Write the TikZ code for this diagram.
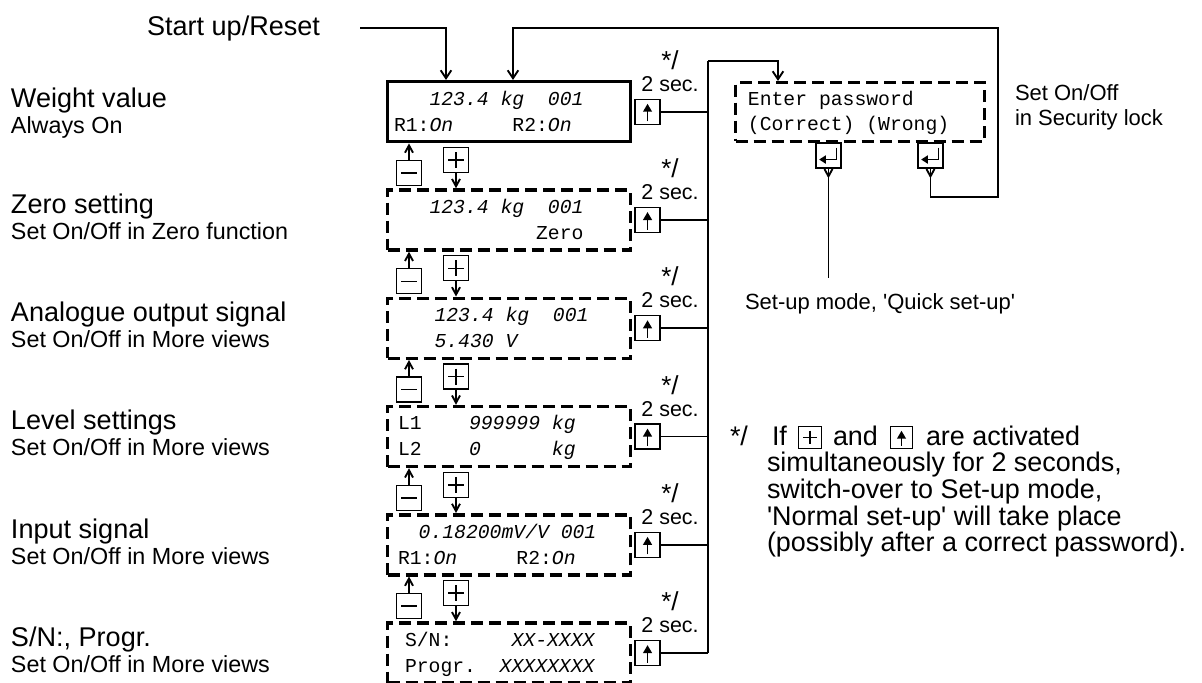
\documentclass[tikz,border=0pt]{standalone}
\usepackage{fontspec}
\setmainfont{Liberation Sans}
\setmonofont{Liberation Mono}
\usetikzlibrary{arrows.meta, positioning, calc}

\begin{document}
\begin{tikzpicture}[x=0.75pt, y=-0.75pt,
  every node/.style={inner sep=0pt, outer sep=0pt},
  display/.style={
    draw, line width=2.6pt, dash pattern=on 9pt off 4.5pt,
    minimum width=182pt, minimum height=45pt
  },
  lcd/.style={anchor=base west, font=\ttfamily\fontsize{14.8pt}{17pt}\selectfont},
  heading/.style={anchor=base west, font=\fontsize{20.3pt}{24pt}\selectfont},
  subheading/.style={anchor=base west, font=\fontsize{17.5pt}{21pt}\selectfont},
  hint/.style={anchor=base, font=\fontsize{16.1pt}{19pt}\selectfont},
  asterisk/.style={anchor=base, font=\fontsize{19.5pt}{24pt}\selectfont},
  remark/.style={anchor=base west, font=\fontsize{16.5pt}{19pt}\selectfont},
  notetext/.style={anchor=base west, font=\fontsize{20.2pt}{20pt}\selectfont},
  btn/.style={draw, line width=0.9pt, minimum size=18.75pt},
  glyph/.style={line width=1.1pt},
  minuskey/.style={btn, path picture={
    \draw[glyph, shorten <=3.4pt, shorten >=3.4pt]
      (path picture bounding box.west) -- (path picture bounding box.east);}},
  pluskey/.style={btn, path picture={
    \draw[glyph, shorten <=3.4pt, shorten >=3.4pt]
      (path picture bounding box.west) -- (path picture bounding box.east);
    \draw[glyph, shorten <=3.4pt, shorten >=3.4pt]
      (path picture bounding box.north) -- (path picture bounding box.south);}},
  upkey/.style={btn, path picture={
    \draw[glyph, line width=1.4pt, -{Triangle[length=6pt, width=6.5pt]},
      shorten <=2.2pt, shorten >=3.4pt]
      (path picture bounding box.south) -- (path picture bounding box.north);}},
  enterkey/.style={btn, path picture={
    \draw[glyph, line width=1.4pt, -{Triangle[length=5pt, width=6pt]}]
      ([shift={(6pt,6pt)}]path picture bounding box.center)
      -- ++(0,-9pt) -- ++(-13pt,0);}},
  wire/.style={line width=1.4pt},
  flow/.style={wire, -{Straight Barb[length=6pt, width=8pt]}, shorten >=1.3pt},
  hop/.style={wire, -{Straight Barb[length=5.5pt, width=6pt]}, shorten >=1.3pt}
]
\useasboundingbox (0,0) rectangle (1202,682);

% display column
\node[display, solid, anchor=north west] (d1) at (387.7,81.7) {};
\node[display, below=36.2pt of d1] (d2) {};
\node[display, below=36.2pt of d2] (d3) {};
\node[display, below=36.2pt of d3] (d4) {};
\node[display, below=36.2pt of d4] (d5) {};
\node[display, below=36.2pt of d5] (d6) {};

\node[lcd] at ($(d1.north west)+(6.3,23.3)$) {~~~\textit{123.4~kg~~001}};
\node[lcd] at ($(d1.north west)+(6.3,49.3)$) {R1:\textit{On}~~~~~R2:\textit{On}};
\node[lcd] at ($(d2.north west)+(6.3,23.3)$) {~~~\textit{123.4~kg~~001}};
\node[lcd] at ($(d2.north west)+(6.3,49.3)$) {~~~~~~~~~~~~Zero};
\node[lcd] at ($(d3.north west)+(11.3,23.3)$) {~~~\textit{123.4~kg~~001}};
\node[lcd] at ($(d3.north west)+(11.3,49.3)$) {~~~\textit{5.430~V}};
\node[lcd] at ($(d4.north west)+(10.3,23.3)$) {L1~~~~\textit{999999~kg}};
\node[lcd] at ($(d4.north west)+(10.3,49.3)$) {L2~~~~\textit{0}~~~~~~\textit{kg}};
\node[lcd] at ($(d5.north west)+(7.3,23.3)$) {~~\textit{0.18200mV/V~001}};
\node[lcd] at ($(d5.north west)+(10.3,49.3)$) {R1:\textit{On}~~~~~R2:\textit{On}};
\node[lcd] at ($(d6.north west)+(17.3,23.3)$) {S/N:~~~~~\textit{XX-XXXX}};
\node[lcd] at ($(d6.north west)+(17.3,49.3)$) {Progr.~~\textit{XXXXXXXX}};

% captions on the left
\coordinate (lft) at (11,0);
\node[heading] at ($(lft |- d1.north)+(0,25.3)$) {Weight value};
\node[subheading] at ($(lft |- d1.north)+(0,51.3)$) {Always On};
\node[heading] at ($(lft |- d2.north)+(0,23.3)$) {Zero setting};
\node[subheading] at ($(lft |- d2.north)+(0,49.3)$) {Set On/Off in Zero function};
\node[heading] at ($(lft |- d3.north)+(0,23.3)$) {Analogue output signal};
\node[subheading] at ($(lft |- d3.north)+(0,49.3)$) {Set On/Off in More views};
\node[heading] at ($(lft |- d4.north)+(0,23.3)$) {Level settings};
\node[subheading] at ($(lft |- d4.north)+(0,49.3)$) {Set On/Off in More views};
\node[heading] at ($(lft |- d5.north)+(0,23.3)$) {Input signal};
\node[subheading] at ($(lft |- d5.north)+(0,49.3)$) {Set On/Off in More views};
\node[heading] at ($(lft |- d6.north)+(0,23.3)$) {S/N:, Progr.};
\node[subheading] at ($(lft |- d6.north)+(0,49.3)$) {Set On/Off in More views};

% up keys with their hints
\node[upkey, right=3.5pt of d1] (u1) {};
\node[upkey, right=3.5pt of d2] (u2) {};
\node[upkey, right=3.5pt of d3] (u3) {};
\node[upkey, right=3.5pt of d4] (u4) {};
\node[upkey, right=3.5pt of d5] (u5) {};
\node[upkey, right=3.5pt of d6] (u6) {};
\node[asterisk] at ($(u1.north)+(22.5,-30)$) {*/};
\node[hint] at ($(u1.north)+(22.5,-8)$) {2 sec.};
\node[asterisk] at ($(u2.north)+(22.5,-30)$) {*/};
\node[hint] at ($(u2.north)+(22.5,-8)$) {2 sec.};
\node[asterisk] at ($(u3.north)+(22.5,-30)$) {*/};
\node[hint] at ($(u3.north)+(22.5,-8)$) {2 sec.};
\node[asterisk] at ($(u4.north)+(22.5,-30)$) {*/};
\node[hint] at ($(u4.north)+(22.5,-8)$) {2 sec.};
\node[asterisk] at ($(u5.north)+(22.5,-30)$) {*/};
\node[hint] at ($(u5.north)+(22.5,-8)$) {2 sec.};
\node[asterisk] at ($(u6.north)+(22.5,-30)$) {*/};
\node[hint] at ($(u6.north)+(22.5,-8)$) {2 sec.};

% minus / plus keys between displays
\node[minuskey] (m1) at ($(d1.south west)+(21.3,31.3)$) {};
\node[pluskey] (p1) at ($(d1.south west)+(68.3,18.3)$) {};
\node[minuskey] (m2) at ($(d2.south west)+(21.3,31.3)$) {};
\node[pluskey] (p2) at ($(d2.south west)+(68.3,18.3)$) {};
\node[minuskey] (m3) at ($(d3.south west)+(21.3,31.3)$) {};
\node[pluskey] (p3) at ($(d3.south west)+(68.3,18.3)$) {};
\node[minuskey] (m4) at ($(d4.south west)+(21.3,31.3)$) {};
\node[pluskey] (p4) at ($(d4.south west)+(68.3,18.3)$) {};
\node[minuskey] (m5) at ($(d5.south west)+(21.3,31.3)$) {};
\node[pluskey] (p5) at ($(d5.south west)+(68.3,18.3)$) {};

\draw[hop] (m1) -- (m1 |- d1.south);
\draw[hop] (p1) -- (p1 |- d2.north);
\draw[hop] (m2) -- (m2 |- d2.south);
\draw[hop] (p2) -- (p2 |- d3.north);
\draw[hop] (m3) -- (m3 |- d3.south);
\draw[hop] (p3) -- (p3 |- d4.north);
\draw[hop] (m4) -- (m4 |- d4.south);
\draw[hop] (p4) -- (p4 |- d5.north);
\draw[hop] (m5) -- (m5 |- d5.south);
\draw[hop] (p5) -- (p5 |- d6.north);

% bus to the password display
\coordinate (bustop) at (708,61);
\draw[wire] (bustop) -- (bustop |- u6.east);
\draw[wire] (u1.east) -- (u1.east -| bustop);
\draw[wire] (u2.east) -- (u2.east -| bustop);
\draw[wire] (u3.east) -- (u3.east -| bustop);
\draw[wire] (u4.east) -- (u4.east -| bustop);
\draw[wire] (u5.east) -- (u5.east -| bustop);
\draw[wire] (u6.east) -- (u6.east -| bustop);

\node[display, minimum width=186.5pt, minimum height=44pt] (pw) at (860,112) {};
\node[lcd] at ($(pw.north west)+(12.3,23.3)$) {Enter~password};
\node[lcd] at ($(pw.north west)+(12.3,48.3)$) {(Correct)~(Wrong)};
\draw[flow] (bustop) -| ($(pw.north west)+(42.3,0)$);

\node[enterkey, anchor=north] (e1) at ($(pw.south west)+(92.8,1.7)$) {};
\node[enterkey, anchor=north] (e2) at ($(pw.south west)+(194.8,1.7)$) {};

\node[remark] (setup) at (745,309) {Set-up mode, \textquotesingle Quick set-up\textquotesingle};
\draw[hop] (e1.south) -- ++(0,12);
\draw[wire] (e1.south) -- ($(e1.south |- setup.north)+(0,-15)$);

\node[remark] (lockA) at (1015,100) {Set On/Off};
\node[remark] at ($(lockA.base west)+(0,25)$) {in Security lock};

% wrong password loops back
\coordinate (loopbot) at (998,197);
\coordinate (looptop) at (998,28);
\draw[hop] (e2.south) -- ++(0,12);
\draw[flow] (e2.south) |- (loopbot) -- (looptop) -| ($(d1.north west)+(125.3,0)$);

% start up
\node[heading] (start) at (147,35) {Start up/Reset};
\coordinate (startend) at ($(start.east)+(40,0)$);
\draw[flow] (startend) -| ($(d1.north west)+(58.3,0)$);

% footnote
\node[notetext] (fnmark) at (730,445) {*/};
\node[notetext] (fnif) at (772,445) {If};
\node[pluskey, minimum size=17pt] (fnplus) at (810,437.5) {};
\node[notetext] (fnand) at (833,445) {and};
\node[upkey, minimum size=17pt] (fnup) at (901.5,437.5) {};
\node[notetext] (fnrest) at (926,445) {are activated};
\node[notetext] at (767,471.7) {simultaneously for 2 seconds,};
\node[notetext] at (767,498.4) {switch-over to Set-up mode,};
\node[notetext] at (767,525.1) {\textquotesingle Normal set-up\textquotesingle{} will take place};
\node[notetext] at (767,551.8) {(possibly after a correct password).};

\end{tikzpicture}
\end{document}
